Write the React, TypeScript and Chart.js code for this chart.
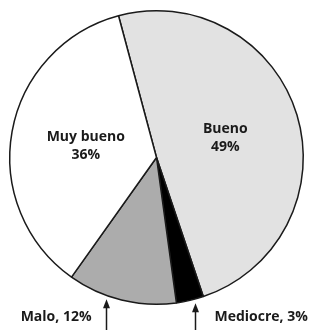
import React, { useEffect, useRef } from "react";
import { Chart, registerables } from "chart.js";

Chart.register(...registerables);

const categories = ["Bueno", "Mediocre", "Malo", "Muy bueno"];
const values = [49, 3, 12, 36];
const colors = ["#e2e2e2", "#000000", "#acacac", "#ffffff"];
// label placement: "in" = inside slice, "left"/"right" = outside with arrow
const labelModes = ["in", "right", "left", "in"];
const arrowFractions = [0, 0.33, 0.65, 0];

const FONT = "bold 14px 'Open Sans', Roboto, sans-serif";

const labelPlugin = {
  id: "pieLabels",
  afterDatasetsDraw(chart: any) {
    const ctx = chart.ctx;
    const meta = chart.getDatasetMeta(0);
    ctx.save();
    ctx.font = FONT;
    ctx.fillStyle = "#1a1a1a";
    ctx.textBaseline = "middle";
    meta.data.forEach((arc: any, i: number) => {
      const p = arc.getProps(["x", "y", "startAngle", "endAngle", "outerRadius"], true);
      const mode = labelModes[i];
      const name = categories[i];
      const pct = values[i] + "%";
      if (mode === "in") {
        const mid = (p.startAngle + p.endAngle) / 2;
        const r = p.outerRadius * 0.49;
        const lx = p.x + Math.cos(mid) * r;
        const ly = p.y + Math.sin(mid) * r;
        ctx.textAlign = "center";
        ctx.fillText(name, lx, ly - 8);
        ctx.fillText(pct, lx, ly + 10);
      } else {
        const a = p.startAngle + (p.endAngle - p.startAngle) * arrowFractions[i];
        const ax = Math.round(p.x + Math.cos(a) * p.outerRadius) + 0.5;
        const tipY = p.y + Math.sin(a) * p.outerRadius + 4;
        const bottom = chart.height;
        ctx.strokeStyle = "#1a1a1a";
        ctx.lineWidth = 1.5;
        ctx.beginPath();
        ctx.moveTo(ax, tipY + 6);
        ctx.lineTo(ax, bottom);
        ctx.stroke();
        ctx.beginPath();
        ctx.moveTo(ax, tipY);
        ctx.lineTo(ax - 3.5, tipY + 9);
        ctx.lineTo(ax + 3.5, tipY + 9);
        ctx.closePath();
        ctx.fill();
        const ty = bottom - 13;
        const text = name + ", " + pct;
        if (mode === "left") {
          ctx.textAlign = "right";
          ctx.fillText(text, ax - 15, ty);
        } else {
          ctx.textAlign = "left";
          ctx.fillText(text, ax + 19, ty);
        }
      }
    });
    ctx.restore();
  },
};

export default function App() {
  const ref = useRef<HTMLCanvasElement>(null);
  useEffect(() => {
    if (!ref.current) return;
    const chart = new Chart(ref.current, {
      type: "pie",
      data: {
        labels: categories,
        datasets: [
          {
            data: values,
            backgroundColor: colors,
            borderColor: "#1a1a1a",
            borderWidth: 1.5,
          },
        ],
      },
      options: {
        animation: false,
        responsive: true,
        maintainAspectRatio: false,
        rotation: -15,
        layout: { padding: { left: 9, right: 5, top: 10, bottom: 25 } },
        plugins: {
          legend: { display: false },
          tooltip: { enabled: false },
        },
      },
      plugins: [labelPlugin],
    });
    return () => chart.destroy();
  }, []);
  return (
    <div style={{ position: "fixed", left: 0, top: 0, width: 309, height: 330, background: "#fff" }}>
      <canvas ref={ref} />
    </div>
  );
}
